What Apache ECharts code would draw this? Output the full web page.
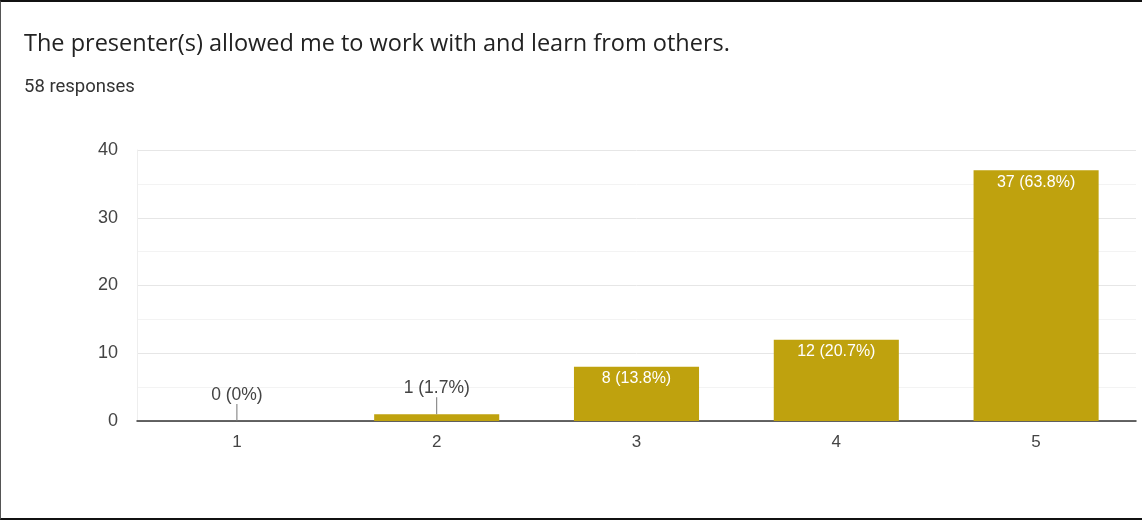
<!DOCTYPE html>
<html>
<head>
<meta charset="utf-8">
<script src="https://cdn.jsdelivr.net/npm/echarts@6/dist/echarts.min.js"></script>
<style>
html,body{margin:0;padding:0;background:#fff;}
#frame{position:absolute;left:0;top:0;width:1142px;height:520px;box-sizing:border-box;border-top:2px solid #111;border-left:1px solid #555;border-bottom:2px solid #111;pointer-events:none;}
#chart{position:absolute;left:0;top:0;width:1142px;height:520px;}
</style>
</head>
<body>
<div id="chart"></div>
<div id="frame"></div>
<script>
const titleText = 'The presenter(s) allowed me to work with and learn from others.';
const subtitleText = '58 responses';
const categories = ['1', '2', '3', '4', '5'];
const counts = [0, 1, 8, 12, 37];
const percents = ['0%', '1.7%', '13.8%', '20.7%', '63.8%'];
const yTicks = [0, 10, 20, 30, 40];

const insideThreshold = 4;
const labelText = i => counts[i] + ' (' + percents[i] + ')';
const chart = echarts.init(document.getElementById('chart'), null, {renderer: 'canvas'});
const barColor = '#bfa20e';

const barData = counts.map((v, i) => ({
  value: v,
  label: {show: v >= insideThreshold}
}));
const smallData = counts.map((v, i) => [i, v]).filter(d => d[1] < insideThreshold);

chart.setOption({
  animation: false,
  title: [{
    text: titleText, left: 19, top: 27,
    textStyle: {fontFamily: 'Open Sans', fontSize: 23.5, fontWeight: 'normal', color: '#222'}
  }, {
    text: subtitleText, left: 19, top: 73,
    textStyle: {fontFamily: 'Roboto', fontSize: 18.5, fontWeight: 'normal', color: '#333'}
  }],
  grid: {left: 137, right: 6, top: 150, bottom: 99, containLabel: false},
  xAxis: {
    type: 'category', data: categories,
    axisLine: {lineStyle: {color: '#333', width: 1.5}},
    axisTick: {show: false},
    axisLabel: {color: '#444', fontFamily: 'Liberation Sans', fontSize: 17, margin: 13}
  },
  yAxis: {
    type: 'value', min: 0, max: yTicks[yTicks.length - 1], interval: 10,
    axisLine: {show: true, lineStyle: {color: '#eee'}},
    axisTick: {show: false},
    axisLabel: {color: '#444', fontFamily: 'Liberation Sans', fontSize: 18, margin: 19},
    splitLine: {lineStyle: {color: '#e6e6e6'}},
    minorTick: {show: false, splitNumber: 2},
    minorSplitLine: {show: true, lineStyle: {color: '#f3f3f3'}}
  },
  series: [{
    type: 'bar', data: barData, barWidth: '62.6%',
    itemStyle: {color: barColor},
    label: {
      position: 'insideTop', distance: 4, color: '#fff',
      fontFamily: 'Liberation Sans', fontSize: 16,
      formatter: p => labelText(p.dataIndex)
    }
  }, {
    type: 'custom', data: smallData, z: 5,
    renderItem: (params, api) => {
      const idx = api.value(0);
      const p = api.coord([idx, api.value(1)]);
      const top = p[1] - 17;
      return {
        type: 'group',
        children: [{
          type: 'line',
          shape: {x1: p[0], y1: p[1], x2: p[0], y2: top},
          style: {stroke: '#777', lineWidth: 1}
        }, {
          type: 'text',
          style: {
            text: labelText(idx), x: p[0], y: top,
            textAlign: 'center', textVerticalAlign: 'bottom',
            fill: '#444', font: '17.5px "Liberation Sans"'
          }
        }]
      };
    }
  }]
});
</script>
</body>
</html>
